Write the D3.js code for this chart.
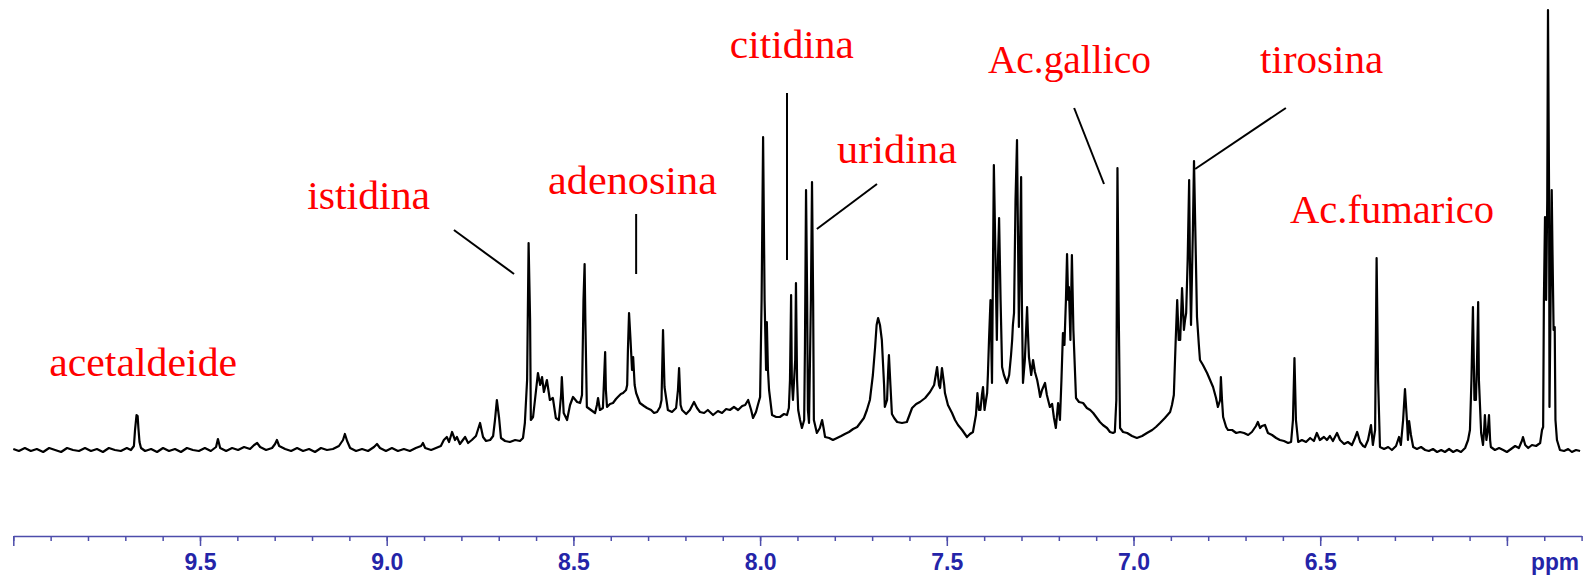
<!DOCTYPE html>
<html>
<head>
<meta charset="utf-8">
<script src="https://cdn.jsdelivr.net/npm/d3@7"></script>
<style>
body { margin: 0; background: #fff; }
</style>
</head>
<body>
<div id="chart"></div>
<script>
// Spettro 1H NMR (regione aromatica): [ppm, intensita (u.a.)]
const spectrum = [
  [10.000, 1], [9.985, -1], [9.969, 2], [9.953, -1], [9.937, 1], [9.920, -2], [9.904, 2], [9.888, 0],
  [9.872, -2], [9.856, 2], [9.840, 0], [9.824, -1], [9.808, 2], [9.792, -1], [9.776, 1], [9.760, -2],
  [9.744, 2], [9.728, 0], [9.712, -1], [9.696, 2], [9.685, 0], [9.677, 4], [9.674, 20], [9.670, 35],
  [9.667, 34], [9.665, 22], [9.662, 8], [9.658, 2], [9.647, -1], [9.631, 1], [9.615, -2], [9.599, 2],
  [9.583, -1], [9.567, 1], [9.551, -2], [9.535, 2], [9.519, 0], [9.503, -1], [9.487, 2], [9.471, -1],
  [9.457, 3], [9.452, 11], [9.446, 2], [9.430, -1], [9.414, 2], [9.398, 0], [9.382, 3], [9.366, 1],
  [9.355, 5], [9.347, 7], [9.339, 3], [9.323, 0], [9.307, 2], [9.299, 6], [9.294, 10], [9.288, 4],
  [9.272, 1], [9.256, -1], [9.240, 2], [9.224, -1], [9.208, 1], [9.192, -2], [9.176, 2], [9.160, 0],
  [9.144, 1], [9.128, 4], [9.117, 10], [9.112, 16], [9.106, 9], [9.098, 2], [9.082, -1], [9.066, 1],
  [9.050, -1], [9.034, 3], [9.026, 6], [9.018, 2], [9.002, -1], [8.986, 2], [8.970, -1], [8.954, 1],
  [8.938, -1], [8.922, 2], [8.908, 4], [8.903, 7], [8.897, 2], [8.881, 0], [8.868, 2], [8.855, 4],
  [8.847, 10], [8.839, 13], [8.833, 8], [8.825, 18], [8.817, 10], [8.812, 13], [8.804, 6], [8.796, 10],
  [8.790, 13], [8.782, 7], [8.772, 10], [8.761, 14], [8.750, 27], [8.742, 13], [8.734, 9], [8.723, 10],
  [8.715, 14], [8.710, 30], [8.705, 50], [8.699, 32], [8.694, 12], [8.683, 9], [8.670, 8], [8.656, 10],
  [8.643, 9], [8.635, 12], [8.630, 27], [8.624, 70], [8.620, 207], [8.616, 130], [8.614, 30], [8.608, 33],
  [8.600, 60], [8.595, 77], [8.589, 65], [8.584, 73], [8.579, 58], [8.571, 70], [8.563, 50], [8.555, 52],
  [8.547, 32], [8.539, 30], [8.533, 55], [8.531, 73], [8.526, 37], [8.517, 30], [8.509, 45], [8.501, 53],
  [8.490, 48], [8.482, 47], [8.477, 55], [8.473, 150], [8.470, 186], [8.468, 130], [8.464, 43], [8.453, 40],
  [8.442, 37], [8.437, 45], [8.434, 52], [8.429, 40], [8.421, 42], [8.418, 70], [8.415, 98], [8.413, 60],
  [8.410, 43], [8.402, 46], [8.394, 47], [8.386, 51], [8.381, 53], [8.373, 56], [8.367, 57], [8.359, 60],
  [8.356, 65], [8.354, 100], [8.351, 137], [8.347, 110], [8.343, 80], [8.340, 93], [8.336, 65], [8.332, 57],
  [8.322, 47], [8.311, 44], [8.303, 42], [8.292, 40], [8.284, 37], [8.276, 38], [8.268, 43], [8.264, 50],
  [8.260, 120], [8.256, 63], [8.247, 40], [8.236, 38], [8.225, 42], [8.220, 60], [8.217, 82], [8.213, 45],
  [8.209, 40], [8.198, 36], [8.188, 40], [8.177, 48], [8.169, 42], [8.161, 38], [8.150, 37], [8.140, 40],
  [8.126, 35], [8.113, 39], [8.102, 37], [8.091, 41], [8.081, 40], [8.070, 43], [8.059, 40], [8.048, 44],
  [8.040, 45], [8.032, 50], [8.024, 40], [8.019, 32], [8.011, 38], [8.006, 45], [8.000, 53], [7.996, 150],
  [7.992, 313], [7.988, 150], [7.984, 80], [7.982, 128], [7.979, 80], [7.976, 60], [7.968, 35], [7.957, 33],
  [7.947, 33], [7.936, 36], [7.928, 35], [7.923, 42], [7.920, 70], [7.917, 155], [7.915, 70], [7.912, 50],
  [7.906, 90], [7.904, 167], [7.901, 70], [7.898, 40], [7.893, 30], [7.888, 22], [7.882, 30], [7.880, 100],
  [7.877, 260], [7.874, 150], [7.872, 40], [7.869, 27], [7.864, 150], [7.861, 268], [7.858, 150], [7.856, 30],
  [7.848, 17], [7.840, 22], [7.834, 30], [7.830, 22], [7.826, 13], [7.815, 12], [7.805, 10], [7.794, 12],
  [7.783, 14], [7.773, 16], [7.762, 18], [7.751, 21], [7.740, 23], [7.732, 27], [7.722, 32], [7.714, 40],
  [7.706, 50], [7.698, 75], [7.692, 103], [7.688, 125], [7.684, 132], [7.679, 125], [7.674, 110], [7.668, 65],
  [7.666, 43], [7.660, 50], [7.657, 80], [7.655, 95], [7.651, 65], [7.647, 36], [7.641, 32], [7.633, 28],
  [7.620, 27], [7.607, 28], [7.599, 36], [7.593, 42], [7.582, 46], [7.572, 48], [7.558, 52], [7.545, 58],
  [7.534, 65], [7.526, 83], [7.521, 65], [7.518, 62], [7.513, 82], [7.507, 65], [7.505, 57], [7.497, 45],
  [7.486, 37], [7.478, 30], [7.470, 25], [7.459, 20], [7.446, 13], [7.438, 16], [7.430, 18], [7.422, 35],
  [7.418, 57], [7.414, 40], [7.410, 40], [7.406, 55], [7.403, 63], [7.399, 40], [7.395, 50], [7.392, 57],
  [7.390, 75], [7.387, 110], [7.383, 150], [7.379, 67], [7.376, 200], [7.374, 285], [7.370, 200], [7.366, 110],
  [7.363, 190], [7.360, 232], [7.356, 150], [7.352, 83], [7.347, 75], [7.339, 67], [7.333, 75], [7.328, 95],
  [7.325, 110], [7.323, 125], [7.320, 137], [7.316, 250], [7.312, 310], [7.309, 200], [7.307, 123], [7.304, 200],
  [7.301, 273], [7.299, 150], [7.296, 67], [7.291, 90], [7.285, 143], [7.283, 120], [7.280, 93], [7.274, 75],
  [7.269, 90], [7.264, 78], [7.258, 70], [7.253, 60], [7.250, 53], [7.245, 60], [7.237, 67], [7.232, 55],
  [7.224, 43], [7.218, 46], [7.213, 32], [7.208, 22], [7.202, 47], [7.197, 30], [7.193, 70], [7.189, 117],
  [7.185, 105], [7.181, 150], [7.178, 196], [7.175, 150], [7.173, 163], [7.169, 110], [7.165, 195], [7.161, 120],
  [7.154, 52], [7.146, 48], [7.135, 47], [7.125, 42], [7.116, 40], [7.108, 37], [7.098, 32], [7.090, 28],
  [7.082, 25], [7.071, 22], [7.063, 18], [7.055, 17], [7.050, 18], [7.046, 50], [7.043, 282], [7.040, 150],
  [7.036, 22], [7.028, 18], [7.017, 17], [7.004, 14], [6.991, 12], [6.977, 14], [6.964, 17], [6.950, 20],
  [6.940, 23], [6.929, 27], [6.916, 32], [6.902, 38], [6.897, 45], [6.892, 55], [6.887, 110], [6.883, 150],
  [6.879, 110], [6.875, 110], [6.870, 162], [6.865, 120], [6.862, 130], [6.859, 137], [6.855, 190], [6.851, 270],
  [6.849, 190], [6.846, 125], [6.843, 183], [6.841, 220], [6.838, 289], [6.835, 230], [6.830, 133], [6.825, 105],
  [6.822, 90], [6.814, 85], [6.803, 77], [6.795, 70], [6.787, 63], [6.779, 52], [6.774, 43], [6.768, 50],
  [6.766, 73], [6.763, 50], [6.760, 33], [6.752, 23], [6.747, 20], [6.736, 20], [6.725, 17], [6.715, 18],
  [6.704, 17], [6.693, 15], [6.683, 18], [6.672, 24], [6.667, 28], [6.661, 22], [6.656, 24], [6.648, 25],
  [6.640, 17], [6.629, 15], [6.618, 12], [6.608, 10], [6.597, 9], [6.586, 7], [6.578, 8], [6.573, 30],
  [6.569, 92], [6.565, 30], [6.559, 8], [6.549, 10], [6.538, 8], [6.527, 12], [6.517, 9], [6.509, 17],
  [6.501, 10], [6.490, 13], [6.482, 10], [6.474, 14], [6.466, 9], [6.455, 17], [6.447, 10], [6.436, 6],
  [6.426, 8], [6.415, 5], [6.407, 12], [6.401, 18], [6.393, 8], [6.385, 4], [6.380, 3], [6.372, 10],
  [6.364, 25], [6.359, 5], [6.353, 20], [6.349, 192], [6.345, 70], [6.340, 3], [6.329, 1], [6.318, 3],
  [6.308, 0], [6.297, 4], [6.289, 13], [6.284, 5], [6.278, 30], [6.273, 61], [6.267, 25], [6.265, 10],
  [6.262, 29], [6.257, 15], [6.251, 3], [6.241, 1], [6.230, 3], [6.219, 0], [6.209, -1], [6.198, 1],
  [6.187, -2], [6.176, 0], [6.166, -2], [6.155, 1], [6.144, -2], [6.134, 0], [6.123, -2], [6.112, 2],
  [6.104, 10], [6.099, 20], [6.095, 70], [6.091, 143], [6.087, 50], [6.083, 50], [6.080, 90], [6.077, 148],
  [6.075, 70], [6.069, 17], [6.064, 5], [6.061, 20], [6.059, 35], [6.055, 10], [6.051, 20], [6.048, 35],
  [6.045, 10], [6.043, 3], [6.032, 0], [6.021, 2], [6.010, 0], [6.000, -2], [5.989, 1], [5.978, 4],
  [5.968, 2], [5.959, 10], [5.957, 13], [5.951, 5], [5.943, 2], [5.933, 5], [5.922, 4], [5.911, 7],
  [5.906, 20], [5.903, 23], [5.901, 150], [5.898, 233], [5.895, 150], [5.892, 250], [5.890, 440], [5.887, 250],
  [5.886, 43], [5.883, 150], [5.880, 260], [5.878, 200], [5.875, 120], [5.872, 123], [5.870, 30], [5.866, 10],
  [5.858, 0], [5.847, -1], [5.836, 1], [5.826, -2], [5.815, 0], [5.804, -1]
];

// Tacche dell'asse (ppm)
const majorTicks = [10.0, 9.5, 9.0, 8.5, 8.0, 7.5, 7.0, 6.5, 6.0];
const tickLabels = ["", "9.5", "9.0", "8.5", "8.0", "7.5", "7.0", "6.5", ""];
const minorTicks = d3.range(58, 101).map(v => v / 10);

// Etichette dei composti: testo, posizione in [ppm, intensita]
const labelNames = ["acetaldeide", "istidina", "adenosina", "citidina", "uridina", "Ac.gallico", "tirosina", "Ac.fumarico"];
const labelPpm = [9.904, 9.213, 8.568, 8.081, 7.794, 7.390, 6.661, 6.581];
const labelInt = [74, 241, 256, 392, 287, 377, 377, 227];

// Linee di richiamo: [ppm1, int1, ppm2, int2]
const leaders = [
  [8.820, 220, 8.659, 176],   // istidina
  [8.332, 236, 8.332, 176],   // adenosina
  [7.928, 357, 7.928, 190],   // citidina
  [7.687, 266, 7.848, 221],   // uridina
  [7.159, 342, 7.079, 266],   // Ac.gallico
  [6.592, 342, 6.835, 281]    // tirosina
];

// larghezze del testo (px) per avvicinare il font originale
const labelWidth = [188, 123, 169, 124, 120, 163, 123, 204];

const W = 1588, H = 578;
const axisY = 536;

const svg = d3.select("#chart")
  .append("svg")
  .attr("width", W)
  .attr("height", H);

svg.append("rect").attr("width", W).attr("height", H).attr("fill", "#fff");

const x = d3.scaleLinear().domain([10.0, 5.8]).range([13.3, 1581.6]);
const y = d3.scaleLinear().domain([0, 440]).range([450, 10]);

// Spettro
svg.append("path")
  .datum(spectrum)
  .attr("fill", "none")
  .attr("stroke", "#000")
  .attr("stroke-width", 2.2)
  .attr("stroke-linejoin", "round")
  .attr("d", d3.line()
    .x(d => x(d[0]))
    .y(d => y(d[1])));

// Asse ppm
const axisColor = "#4d4dab";
const gMinor = svg.append("g")
  .attr("transform", `translate(0,${axisY})`)
  .call(d3.axisBottom(x).tickValues(minorTicks).tickSize(5).tickSizeOuter(0).tickFormat(""));
gMinor.select(".domain").attr("stroke", axisColor).attr("stroke-width", 1.5);
gMinor.selectAll(".tick line").attr("stroke", axisColor).attr("stroke-width", 1.5);

const gMajor = svg.append("g")
  .attr("transform", `translate(0,${axisY})`)
  .call(d3.axisBottom(x).tickValues(majorTicks).tickSize(10).tickSizeOuter(0).tickPadding(8)
    .tickFormat((d, i) => tickLabels[i]));
gMajor.select(".domain").remove();
gMajor.selectAll(".tick line").attr("stroke", axisColor).attr("stroke-width", 1.5);
gMajor.selectAll(".tick text")
  .attr("fill", "#2424a8")
  .style("font-family", "'Liberation Sans', Arial, sans-serif")
  .style("font-weight", "bold")
  .style("font-size", "23px");

svg.append("text")
  .attr("x", 1531)
  .attr("y", 570)
  .attr("fill", "#2424a8")
  .attr("textLength", 48)
  .attr("lengthAdjust", "spacingAndGlyphs")
  .style("font-family", "'Liberation Sans', Arial, sans-serif")
  .style("font-weight", "bold")
  .style("font-size", "23px")
  .text("ppm");

// Linee di richiamo
svg.selectAll("line.leader")
  .data(leaders)
  .enter().append("line")
  .attr("class", "leader")
  .attr("x1", d => x(d[0]))
  .attr("y1", d => y(d[1]))
  .attr("x2", d => x(d[2]))
  .attr("y2", d => y(d[3]))
  .attr("stroke", "#000")
  .attr("stroke-width", 2);

// Etichette rosse
svg.selectAll("text.label")
  .data(labelNames)
  .enter().append("text")
  .attr("class", "label")
  .attr("x", (d, i) => x(labelPpm[i]))
  .attr("y", (d, i) => y(labelInt[i]))
  .attr("textLength", (d, i) => labelWidth[i])
  .attr("lengthAdjust", "spacingAndGlyphs")
  .attr("fill", "#ff0000")
  .style("font-family", "'Liberation Serif', 'Times New Roman', serif")
  .style("font-size", "40px")
  .text(d => d);
</script>
</body>
</html>
